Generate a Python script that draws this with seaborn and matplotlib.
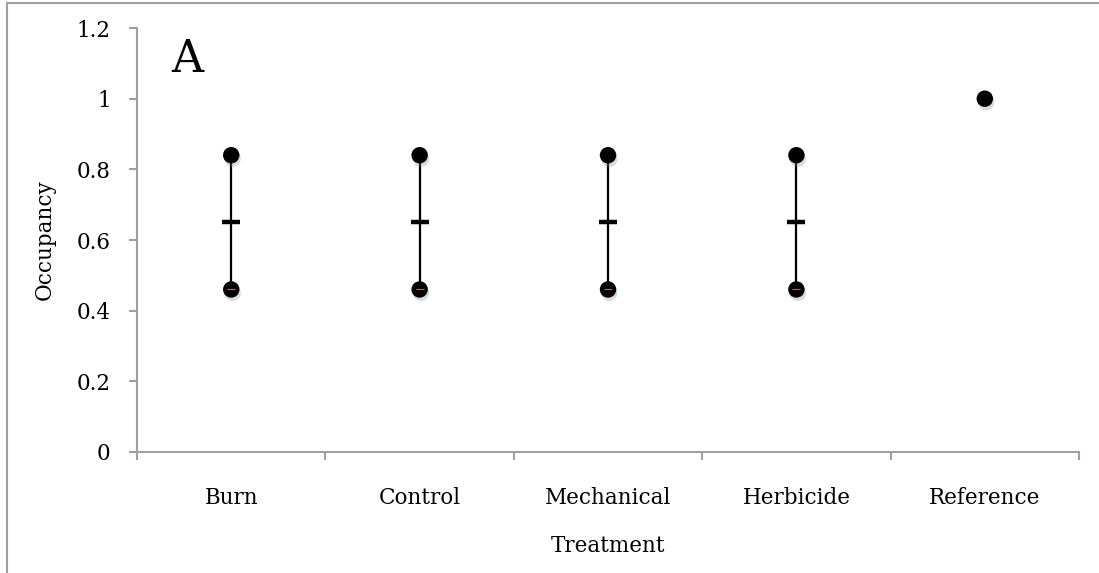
import matplotlib
matplotlib.use("Agg")
import matplotlib.pyplot as plt
import matplotlib.patheffects as pe
from matplotlib.lines import Line2D
import numpy as np
import pandas as pd
import seaborn as sns

# Occupancy estimates per treatment
treatments = ["Burn", "Control", "Mechanical", "Herbicide", "Reference"]
high = [0.84, 0.84, 0.84, 0.84, 1.0]
low = [0.46, 0.46, 0.46, 0.46, 1.0]
mid = [0.65, 0.65, 0.65, 0.65, 1.0]
yticks = [0, 0.2, 0.4, 0.6, 0.8, 1, 1.2]
ytick_labels = ["0", "0.2", "0.4", "0.6", "0.8", "1", "1.2"]

sns.set_theme(style="white")
plt.rcParams["font.family"] = ["DejaVu Serif"]

df = pd.DataFrame({"treatment": treatments, "high": high, "low": low, "mid": mid})
df["pos"] = np.arange(len(df))
ranged = df[df["high"] != df["low"]]
single = df[df["high"] == df["low"]]

fig = plt.figure(figsize=(10.99, 5.73), dpi=100)
ax = fig.add_axes([0.1247, 0.2112, 0.8571, 0.7399])

shadow = [pe.SimplePatchShadow(offset=(1.0, -2.5), shadow_rgbFace="0.55", alpha=0.3), pe.Normal()]

ax.vlines(ranged["pos"], ranged["low"], ranged["high"], color="black", lw=1.6, zorder=2)

pts = pd.concat([
    ranged[["pos", "high"]].rename(columns={"high": "value"}),
    ranged[["pos", "low"]].rename(columns={"low": "value"}),
    single[["pos", "high"]].rename(columns={"high": "value"}),
])
sns.scatterplot(data=pts, x="pos", y="value", ax=ax, color="black", s=140,
                edgecolor="black", linewidth=0, zorder=3, legend=False)
ax.collections[-1].set_path_effects(shadow)

sns.scatterplot(data=ranged, x="pos", y="mid", ax=ax, color="black", marker="_",
                s=150, linewidth=3.2, zorder=4, legend=False)
sns.scatterplot(data=ranged, x="pos", y="low", ax=ax, color="#b07060", marker="_",
                s=40, linewidth=0.8, zorder=5, legend=False)

ax.set_xlim(-0.5, len(treatments) - 0.5)
ax.set_ylim(0, 1.2)
ax.set_yticks(yticks)
ax.set_yticklabels(ytick_labels)
ax.set_xticks(np.arange(len(treatments)))
ax.set_xticklabels(treatments)
ax.set_xticks(np.arange(len(treatments) + 1) - 0.5, minor=True)

axis_grey = "#a0a0a0"
for side in ["top", "right"]:
    ax.spines[side].set_visible(False)
for side in ["left", "bottom"]:
    ax.spines[side].set_color(axis_grey)
    ax.spines[side].set_linewidth(1.5)

ax.tick_params(axis="y", which="major", left=True, length=6, width=1.5, color=axis_grey,
               labelsize=15.5, pad=13, labelcolor="black")
ax.tick_params(axis="x", which="major", bottom=False, length=0, labelsize=15.5, pad=25,
               labelcolor="black")
ax.tick_params(axis="x", which="minor", bottom=True, length=6, width=1.5, color=axis_grey)

ax.set_ylabel("Occupancy", fontsize=15.5, labelpad=15, color="black")
ax.set_xlabel("Treatment", fontsize=15.5, labelpad=19, color="black")
ax.text(0.036, 0.976, "A", transform=ax.transAxes, fontsize=32, va="top", ha="left", color="black")

# outer chart frame
fig.add_artist(Line2D([0.0064, 0.0064], [0, 0.9948], transform=fig.transFigure, color=axis_grey, lw=1.5))
fig.add_artist(Line2D([0.0064, 1.0], [0.9948, 0.9948], transform=fig.transFigure, color=axis_grey, lw=1.5))

fig.savefig("out.png", dpi=100)
